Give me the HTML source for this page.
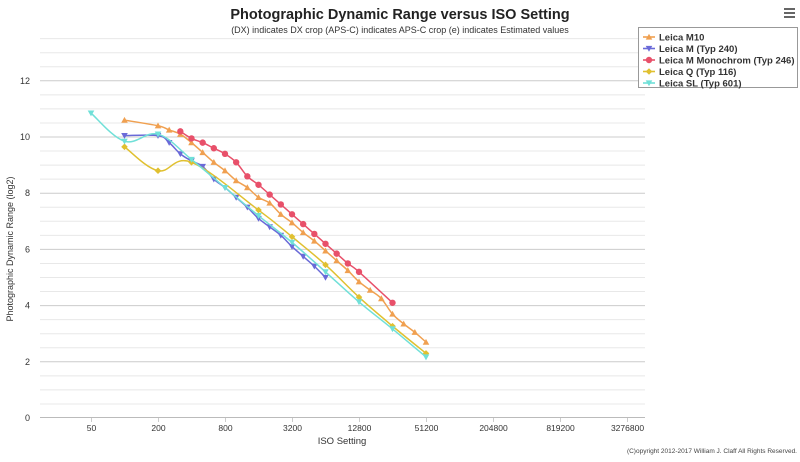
<!DOCTYPE html>
<html><head><meta charset="utf-8"><style>
body{margin:0;background:#fff;width:800px;height:457px;overflow:hidden;font-family:"Liberation Sans",sans-serif}
</style></head><body>
<svg id="s" width="800" height="457" xmlns="http://www.w3.org/2000/svg" font-family="Liberation Sans, sans-serif">
<text x="400" y="19" text-anchor="middle" font-size="14.5" font-weight="bold" fill="#222">Photographic Dynamic Range versus ISO Setting</text>
<text x="400" y="33" text-anchor="middle" font-size="9" fill="#333">(DX) indicates DX crop (APS-C) indicates APS-C crop (e) indicates Estimated values</text>
<g id="grid"></g>
<g id="series"></g>
<text transform="translate(13,249) rotate(-90)" text-anchor="middle" font-size="9" fill="#333">Photographic Dynamic Range (log2)</text>
<text x="342" y="444" text-anchor="middle" font-size="9.5" fill="#333">ISO Setting</text>
<text x="797" y="453" text-anchor="end" font-size="6.5" fill="#444">(C)opyright 2012-2017 William J. Claff All Rights Reserved.</text>
<rect x="638.5" y="27.5" width="159" height="60" fill="#fff" stroke="#999"/>
<g id="leg"></g>
<g fill="#666"><rect x="784" y="8" width="11" height="2"/><rect x="784" y="12" width="11" height="2"/><rect x="784" y="16" width="11" height="2"/></g>
</svg>
<script>
const NS="http://www.w3.org/2000/svg";
function el(t,a,p){const e=document.createElementNS(NS,t);for(const k in a)e.setAttribute(k,a[k]);if(p)p.appendChild(e);return e;}
const X=i=>91+33.5*Math.log2(i/50), Y=v=>418-28.1*v;
const g=document.getElementById('grid');
for(let v=0.5;v<=13.5;v+=0.5){const y=Y(v);el('line',{x1:40,x2:645,y1:y,y2:y,stroke:(v%2==0)?'#ccc':'#e8e8e8','stroke-width':1},g);}
for(let v=0;v<=12;v+=2){const t=el('text',{x:30,y:Y(v)+3,'text-anchor':'end','font-size':9,fill:'#333'},g);t.textContent=v;}
el('line',{x1:40,x2:645,y1:417.5,y2:417.5,stroke:'#bbb'},g);
[50,200,800,3200,12800,51200,204800,819200,3276800].forEach(i=>{const x=Math.round(X(i))+.5;el('line',{x1:x,x2:x,y1:418,y2:422,stroke:'#ccc'},g);const t=el('text',{x:x,y:431,'text-anchor':'middle','font-size':8.5,fill:'#333'},g);t.textContent=i;});
const iso=i=>50*Math.pow(2,i/3);
function seq(start,vals){const a=[];for(let k=0;k<vals.length;k++)a.push([iso(start+k),vals[k]]);return a;}
const S=[
{n:'Leica M10',c:'#f0a050',m:'up',d:[[100,10.6]].concat(seq(6,[10.4,10.25,10.1,9.8,9.45,9.1,8.8,8.45,8.2,7.85,7.65,7.25,6.95,6.6,6.3,5.95,5.6,5.25,4.85,4.55,4.25,3.7,3.35,3.05,2.7]))},
{n:'Leica M (Typ 240)',c:'#6a6ad8',m:'down',d:[[100,10.05]].concat(seq(6,[10.05,9.8,9.4,9.15,8.95,8.5,8.2,7.85,7.5,7.1,6.8,6.5,6.1,5.75,5.4,5.0]))},
{n:'Leica M Monochrom (Typ 246)',c:'#e8506a',m:'circle',d:seq(8,[10.2,9.95,9.8,9.6,9.4,9.1,8.6,8.3,7.95,7.6,7.25,6.9,6.55,6.2,5.85,5.5,5.2]).concat([[25600,4.1]])},
{n:'Leica Q (Typ 116)',c:'#e0c030',m:'diamond',d:[[100,9.65],[200,8.8],[400,9.1],[1600,7.4],[3200,6.45],[6400,5.45],[12800,4.3],[25600,3.27],[51200,2.3]]},
{n:'Leica SL (Typ 601)',c:'#70e0d8',m:'down',d:[[50,10.85],[100,9.85],[200,10.1],[400,9.2],[800,8.2],[1600,7.2],[3200,6.25],[6400,5.2],[12800,4.13],[25600,3.17],[51200,2.17]]}
];
function path(p){let d='M'+p[0][0]+','+p[0][1];for(let i=0;i<p.length-1;i++){const p0=p[i-1]||p[i],p1=p[i],p2=p[i+1],p3=p[i+2]||p2;const t=0.18;d+=' C'+(p1[0]+(p2[0]-p0[0])*t)+','+(p1[1]+(p2[1]-p0[1])*t)+' '+(p2[0]-(p3[0]-p1[0])*t)+','+(p2[1]-(p3[1]-p1[1])*t)+' '+p2[0]+','+p2[1];}return d;}
function mark(m,x,y,c,p){const r=3.3;if(m=='circle')el('circle',{cx:x,cy:y,r:3.2,fill:c},p);else if(m=='up')el('path',{d:`M${x},${y-r} L${x+r},${y+r*0.8} L${x-r},${y+r*0.8}Z`,fill:c},p);else if(m=='down')el('path',{d:`M${x},${y+r} L${x+r},${y-r*0.8} L${x-r},${y-r*0.8}Z`,fill:c},p);else el('path',{d:`M${x},${y-r} L${x+r},${y} L${x},${y+r} L${x-r},${y}Z`,fill:c},p);}
const sg=document.getElementById('series'),lg=document.getElementById('leg');
S.forEach((s,k)=>{const p=s.d.map(a=>[X(a[0]),Y(a[1])]);el('path',{d:path(p),fill:'none',stroke:s.c,'stroke-width':1.5},sg);p.forEach(q=>mark(s.m,q[0],q[1],s.c,sg));
const y=37+k*11.5;el('line',{x1:643,x2:655,y1:y,y2:y,stroke:s.c,'stroke-width':1.6},lg);mark(s.m,649,y,s.c,lg);const t=el('text',{x:659,y:y+3.5,'font-size':9.5,'font-weight':'bold',fill:'#333'},lg);t.textContent=s.n;});
</script>
</body></html>
